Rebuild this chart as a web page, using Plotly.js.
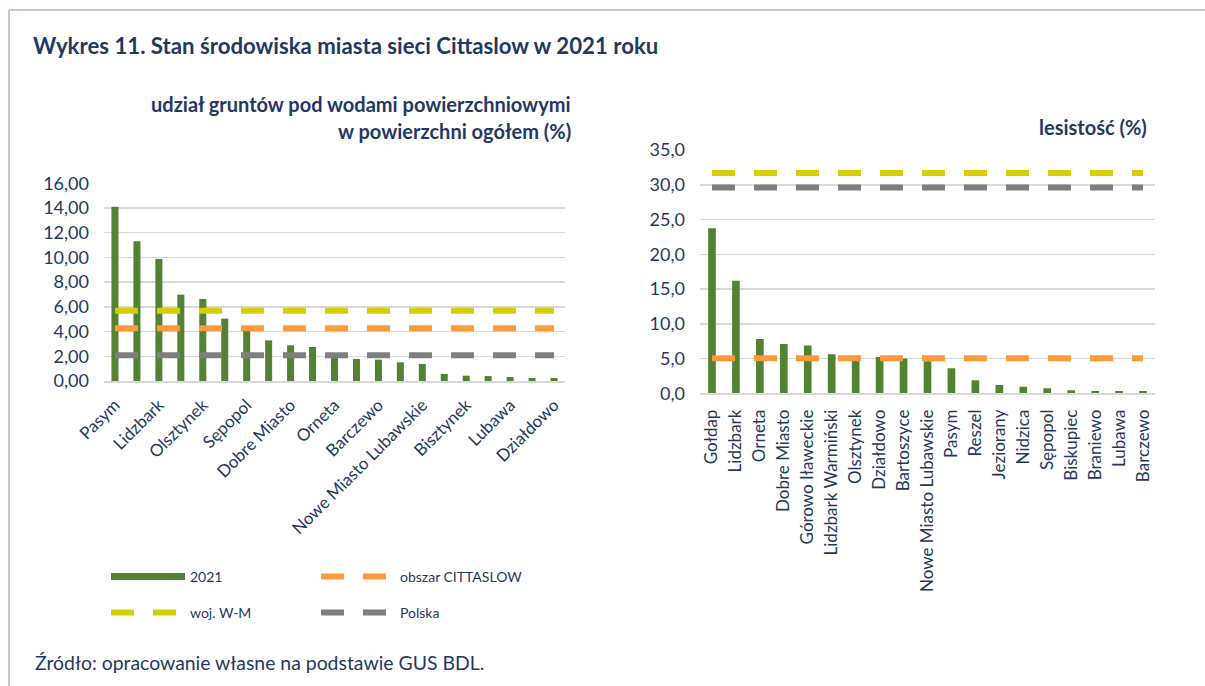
<!DOCTYPE html>
<html>
<head>
<meta charset="utf-8">
<script src="https://cdn.plot.ly/plotly-3.0.1.min.js"></script>
<style>html,body{margin:0;padding:0;background:#fff;}#chart{width:1205px;height:686px;}</style>
</head>
<body>
<div id="chart"></div>
<script>
// ---- data: left chart (udział gruntów pod wodami, %) ----
const waterTowns = ["Pasym","Ryn","Lidzbark","Gołdap","Olsztynek","Biskupiec","Sępopol","Nidzica","Dobre Miasto","Jeziorany","Orneta","Reszel","Barczewo","Lidzbark Warmiński","Nowe Miasto Lubawskie","Bartoszyce","Bisztynek","Braniewo","Lubawa","Górowo Iławeckie","Działdowo"];
const waterValues = [14.10,11.30,9.88,6.99,6.64,5.05,4.05,3.29,2.89,2.75,1.95,1.78,1.73,1.51,1.38,0.57,0.43,0.40,0.32,0.24,0.24];
const waterTickLabels = ["Pasym","Lidzbark","Olsztynek","Sępopol","Dobre Miasto","Orneta","Barczewo","Nowe Miasto Lubawskie","Bisztynek","Lubawa","Działdowo"];
const waterCittaslow = 4.26;
const waterWM = 5.69;
const waterPolska = 2.08;

// ---- data: right chart (lesistość, %) ----
const forestTowns = ["Gołdap","Lidzbark","Orneta","Dobre Miasto","Górowo Iławeckie","Lidzbark Warmiński","Olsztynek","Działdowo","Bartoszyce","Nowe Miasto Lubawskie","Pasym","Reszel","Jeziorany","Nidzica","Sępopol","Biskupiec","Braniewo","Lubawa","Barczewo"];
const forestValues = [23.73,16.20,7.81,7.09,6.86,5.61,5.40,5.22,4.99,4.60,3.60,1.87,1.20,0.96,0.72,0.43,0.34,0.34,0.34];
const forestCittaslow = 5.03;
const forestWM = 31.7;
const forestPolska = 29.6;

const W = 1205, H = 686;
const px = v => v / W;
const py = v => 1 - v / H;

const NAVY = "#1f3864";
const FONT = "Lato, 'Open Sans', sans-serif";
const GREEN = "#548235", YELLOW = "#d4cf00", ORANGE = "#ff9a3c", GRAY = "#7f7f7f";
const DASH = "23px,19px";

function refLine(cats, val, color, name, xa, ya, legend, show, rank) {
  return {type: "scatter", mode: "lines", x: [cats[0], cats[cats.length - 1]], y: [val, val],
    xaxis: xa, yaxis: ya, name: name, showlegend: show, legend: legend, legendrank: rank,
    line: {color: color, width: 6, dash: DASH}, hoverinfo: "skip"};
}

const traces = [
  {type: "bar", x: waterTowns, y: waterValues, xaxis: "x", yaxis: "y", marker: {color: GREEN}, showlegend: false, name: "2021"},
  {type: "bar", x: forestTowns, y: forestValues, xaxis: "x2", yaxis: "y2", marker: {color: GREEN}, showlegend: false, name: "2021"},
  // legend-only entry for 2021 (wide bar symbol)
  {type: "scatter", mode: "lines", x: [null], y: [null], xaxis: "x", yaxis: "y", name: "2021", legend: "legend", legendrank: 1, line: {color: GREEN, width: 7}},
  refLine(waterTowns, waterPolska, GRAY, "Polska", "x", "y", "legend2", true, 4),
  refLine(waterTowns, waterCittaslow, ORANGE, "obszar CITTASLOW", "x", "y", "legend", true, 2),
  refLine(waterTowns, waterWM, YELLOW, "woj. W-M", "x", "y", "legend2", true, 3),
  refLine(forestTowns, forestCittaslow, ORANGE, "obszar CITTASLOW", "x2", "y2", "legend", false, 2),
  refLine(forestTowns, forestPolska, GRAY, "Polska", "x2", "y2", "legend2", false, 4),
  refLine(forestTowns, forestWM, YELLOW, "woj. W-M", "x2", "y2", "legend2", false, 3)
];

const xTickFont = {family: FONT, size: 17, color: NAVY};
const yTickFont = {family: FONT, size: 18, color: NAVY};
const legendCommon = {orientation: "h", traceorder: "normal", itemwidth: 74, entrywidth: 121, entrywidthmode: "pixels",
  font: {family: FONT, size: 14, color: NAVY}, bgcolor: "rgba(0,0,0,0)", xanchor: "left", yanchor: "middle", itemclick: false, itemdoubleclick: false};

const layout = {
  width: W, height: H,
  margin: {l: 0, r: 0, t: 0, b: 0},
  paper_bgcolor: "#fff", plot_bgcolor: "rgba(0,0,0,0)",
  separators: ", ",
  bargap: 0.68,
  font: {family: FONT, color: NAVY},
  title: {text: "<b>Wykres 11. Stan środowiska miasta sieci Cittaslow w 2021 roku</b>", x: px(33), xanchor: "left", xref: "paper",
    y: py(46), yanchor: "middle", yref: "paper", font: {family: FONT, size: 22.2, color: NAVY}},
  xaxis: {domain: [px(104), px(565)], type: "category", tickmode: "array", tickvals: waterTickLabels, ticktext: waterTickLabels,
    tickangle: -45, tickfont: xTickFont, showgrid: false, showline: true, linecolor: "#d9d9d9", linewidth: 1.5, ticks: "", ticklabelstandoff: 6, fixedrange: true},
  yaxis: {domain: [py(381), py(183.3)], range: [0, 16], dtick: 2, tickformat: ".2f", tickfont: yTickFont, showgrid: true, gridcolor: "#d9d9d9", gridwidth: 1.5,
    zeroline: false, ticks: "", ticklabelstandoff: 14, fixedrange: true},
  xaxis2: {domain: [px(700), px(1155)], anchor: "y2", type: "category", tickangle: -90, tickfont: xTickFont, showgrid: false, showline: true, linecolor: "#d9d9d9", linewidth: 1.5, ticks: "", ticklabelstandoff: 8, fixedrange: true},
  yaxis2: {domain: [py(393.3), py(150)], anchor: "x2", range: [0, 35], dtick: 5, tickformat: ".1f", tickfont: yTickFont, showgrid: true, gridcolor: "#d9d9d9", gridwidth: 1.5,
    zeroline: false, ticks: "", ticklabelstandoff: 14, fixedrange: true},
  legend: Object.assign({}, legendCommon, {x: px(106), y: py(577)}),
  legend2: Object.assign({}, legendCommon, {x: px(106), y: py(613)}),
  annotations: [
    {text: "<b>udział gruntów pod wodami powierzchniowymi</b>", xref: "paper", yref: "paper", x: px(573), y: py(104), xanchor: "right", yanchor: "middle", showarrow: false, font: {family: FONT, size: 20, color: NAVY}},
    {text: "<b>w powierzchni ogółem (%)</b>", xref: "paper", yref: "paper", x: px(573), y: py(131), xanchor: "right", yanchor: "middle", showarrow: false, font: {family: FONT, size: 20, color: NAVY}},
    {text: "<b>lesistość (%)</b>", xref: "paper", yref: "paper", x: px(1149), y: py(127), xanchor: "right", yanchor: "middle", showarrow: false, font: {family: FONT, size: 20, color: NAVY}},
    {text: "Źródło: opracowanie własne na podstawie GUS BDL.", xref: "paper", yref: "paper", x: px(33), y: py(662), xanchor: "left", yanchor: "middle", showarrow: false, font: {family: FONT, size: 19.4, color: NAVY}}
  ],
  shapes: [
    {type: "line", xref: "paper", yref: "paper", x0: px(9), x1: 1, y0: py(10), y1: py(10), line: {color: "#cbc3dc", width: 2}},
    {type: "line", xref: "paper", yref: "paper", x0: px(9), x1: px(9), y0: py(10), y1: 0, line: {color: "#cbc3dc", width: 2}}
  ]
};

Plotly.newPlot("chart", traces, layout, {displayModeBar: false, staticPlot: true});
</script>
</body>
</html>
